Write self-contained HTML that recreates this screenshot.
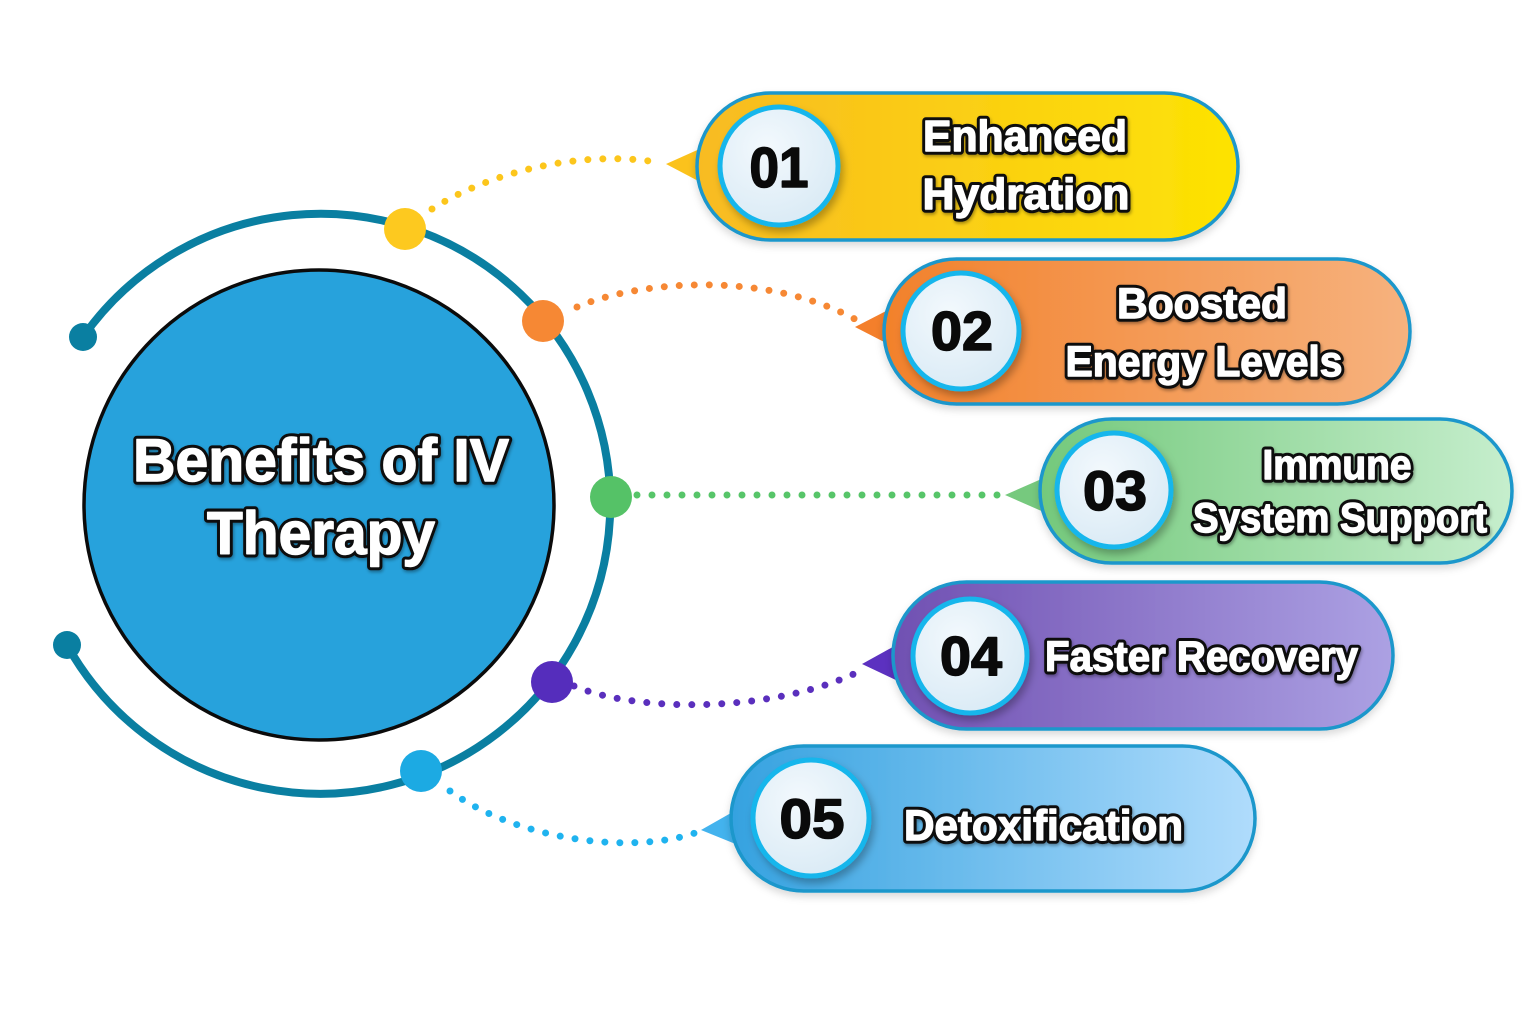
<!DOCTYPE html>
<html>
<head>
<meta charset="utf-8">
<style>
  html,body{margin:0;padding:0;background:#ffffff;}
  svg{display:block;}
  .o{font-family:"Liberation Sans",sans-serif;font-weight:bold;fill:#111;stroke:#111;stroke-width:7.5;stroke-linejoin:round;}
  .i{font-family:"Liberation Sans",sans-serif;font-weight:bold;fill:#ffffff;stroke:#ffffff;stroke-width:1.4;stroke-linejoin:round;}
  .num{font-family:"Liberation Sans",sans-serif;font-weight:bold;fill:#0a0a0a;stroke:#0a0a0a;stroke-width:1.6;stroke-linejoin:round;}
</style>
</head>
<body>
<svg width="1536" height="1024" viewBox="0 0 1536 1024" xmlns="http://www.w3.org/2000/svg">
  <defs>
    <linearGradient id="g1" x1="0" y1="0" x2="1" y2="0">
      <stop offset="0" stop-color="#f8bb22"/>
      <stop offset="1" stop-color="#fde303"/>
    </linearGradient>
    <linearGradient id="g2" x1="0" y1="0" x2="1" y2="0">
      <stop offset="0" stop-color="#f2812b"/>
      <stop offset="1" stop-color="#f6b27e"/>
    </linearGradient>
    <linearGradient id="g3" x1="0" y1="0" x2="1" y2="0">
      <stop offset="0" stop-color="#74c97c"/>
      <stop offset="1" stop-color="#c6eecd"/>
    </linearGradient>
    <linearGradient id="g4" x1="0" y1="0" x2="1" y2="0">
      <stop offset="0" stop-color="#7050b2"/>
      <stop offset="1" stop-color="#aca1e3"/>
    </linearGradient>
    <linearGradient id="g5" x1="0" y1="0" x2="1" y2="0">
      <stop offset="0" stop-color="#35a2e0"/>
      <stop offset="1" stop-color="#b0dcfc"/>
    </linearGradient>
    <radialGradient id="nc" cx="0.4" cy="0.35" r="0.7">
      <stop offset="0" stop-color="#f3f9fd"/>
      <stop offset="1" stop-color="#d9eaf5"/>
    </radialGradient>
    <filter id="sh" x="-20%" y="-20%" width="140%" height="150%">
      <feDropShadow dx="3" dy="5" stdDeviation="4" flood-color="#000" flood-opacity="0.28"/>
    </filter>
    <filter id="psh" x="-10%" y="-20%" width="120%" height="150%">
      <feDropShadow dx="0" dy="4" stdDeviation="4" flood-color="#000" flood-opacity="0.15"/>
    </filter>
    <filter id="tsh" x="-10%" y="-30%" width="120%" height="160%">
      <feDropShadow dx="1" dy="2" stdDeviation="1.5" flood-color="#000" flood-opacity="0.35"/>
    </filter>
  </defs>

  <!-- outer ring -->
  <path d="M 83 337 A 290 290 0 1 1 67 645" fill="none" stroke="#0a7fa1" stroke-width="8"/>
  <circle cx="83" cy="337" r="14" fill="#0a7fa1"/>
  <circle cx="67" cy="645" r="14" fill="#0a7fa1"/>

  <!-- central circle -->
  <circle cx="319" cy="505" r="235" fill="#27a2dc" stroke="#0b0b0b" stroke-width="3.5"/>
  <g filter="url(#tsh)">
    <text class="o" x="321" y="481" text-anchor="middle" font-size="60" textLength="376" lengthAdjust="spacingAndGlyphs">Benefits of IV</text>
    <text class="o" x="321" y="554" text-anchor="middle" font-size="60" textLength="228" lengthAdjust="spacingAndGlyphs">Therapy</text>
    <text class="i" x="321" y="481" text-anchor="middle" font-size="60" textLength="376" lengthAdjust="spacingAndGlyphs">Benefits of IV</text>
    <text class="i" x="321" y="554" text-anchor="middle" font-size="60" textLength="228" lengthAdjust="spacingAndGlyphs">Therapy</text>
  </g>

  <!-- dotted connectors -->
  <g fill="none" stroke-width="7" stroke-linecap="round" stroke-dasharray="0 15">
    <path d="M 432 209 C 490 172, 580 150, 656 162" stroke="#fcc61c"/>
    <path d="M 577 307 C 640 280, 770 270, 860 322" stroke="#f68834"/>
    <path d="M 637 495 L 1000 495" stroke="#57c569"/>
    <path d="M 574 686 C 640 714, 780 712, 862 670" stroke="#5a2fbd"/>
    <path d="M 450 791 C 520 842, 640 856, 703 830" stroke="#1fb3ef"/>
  </g>

  <!-- dots on ring -->
  <circle cx="405" cy="229" r="21" fill="#fdc91f"/>
  <circle cx="543" cy="321" r="21" fill="#f68834"/>
  <circle cx="611" cy="497" r="21" fill="#55c267"/>
  <circle cx="552" cy="682" r="21" fill="#552dbc"/>
  <circle cx="421" cy="771" r="21" fill="#1caae3"/>

  <!-- pointer triangles -->
  <polygon points="666,164 704,147 704,184" fill="#fbc21c"/>
  <polygon points="855,327 892,308 892,346" fill="#f47f2b"/>
  <polygon points="1005,495 1046,477 1046,513" fill="#76c97e"/>
  <polygon points="862,664 900,643 900,682" fill="#5c31c0"/>
  <polygon points="701,830 738,809 738,845" fill="#43b3ee"/>

  <!-- pill 1 -->
  <rect x="697" y="93" width="541" height="147" rx="73.5" fill="url(#g1)" stroke="#1a97cb" stroke-width="3.5" filter="url(#psh)"/>
  <circle cx="779" cy="166" r="59" fill="url(#nc)" stroke="#12b6ec" stroke-width="5" filter="url(#sh)"/>
  <text class="num" x="779" y="187" text-anchor="middle" font-size="57" textLength="59" lengthAdjust="spacingAndGlyphs">01</text>
  <g filter="url(#tsh)">
    <text class="o" x="1025" y="151" text-anchor="middle" font-size="44" textLength="204" lengthAdjust="spacingAndGlyphs">Enhanced</text>
    <text class="o" x="1026" y="209" text-anchor="middle" font-size="44" textLength="207" lengthAdjust="spacingAndGlyphs">Hydration</text>
    <text class="i" x="1025" y="151" text-anchor="middle" font-size="44" textLength="204" lengthAdjust="spacingAndGlyphs">Enhanced</text>
    <text class="i" x="1026" y="209" text-anchor="middle" font-size="44" textLength="207" lengthAdjust="spacingAndGlyphs">Hydration</text>
  </g>

  <!-- pill 2 -->
  <rect x="884" y="259" width="526" height="145" rx="72.5" fill="url(#g2)" stroke="#1a97cb" stroke-width="3.5" filter="url(#psh)"/>
  <circle cx="961" cy="331" r="58" fill="url(#nc)" stroke="#12b6ec" stroke-width="5" filter="url(#sh)"/>
  <text class="num" x="962" y="350" text-anchor="middle" font-size="55" textLength="62" lengthAdjust="spacingAndGlyphs">02</text>
  <g filter="url(#tsh)">
    <text class="o" x="1202" y="318" text-anchor="middle" font-size="43" textLength="170" lengthAdjust="spacingAndGlyphs">Boosted</text>
    <text class="o" x="1204" y="376" text-anchor="middle" font-size="43" textLength="277" lengthAdjust="spacingAndGlyphs">Energy Levels</text>
    <text class="i" x="1202" y="318" text-anchor="middle" font-size="43" textLength="170" lengthAdjust="spacingAndGlyphs">Boosted</text>
    <text class="i" x="1204" y="376" text-anchor="middle" font-size="43" textLength="277" lengthAdjust="spacingAndGlyphs">Energy Levels</text>
  </g>

  <!-- pill 3 -->
  <rect x="1040" y="419" width="472" height="144" rx="72" fill="url(#g3)" stroke="#1a97cb" stroke-width="3.5" filter="url(#psh)"/>
  <circle cx="1114" cy="490" r="57" fill="url(#nc)" stroke="#12b6ec" stroke-width="5" filter="url(#sh)"/>
  <text class="num" x="1115" y="510" text-anchor="middle" font-size="56" textLength="64" lengthAdjust="spacingAndGlyphs">03</text>
  <g filter="url(#tsh)">
    <text class="o" x="1337" y="479" text-anchor="middle" font-size="42" textLength="149" lengthAdjust="spacingAndGlyphs">Immune</text>
    <text class="o" x="1340" y="532" text-anchor="middle" font-size="42" textLength="294" lengthAdjust="spacingAndGlyphs">System Support</text>
    <text class="i" x="1337" y="479" text-anchor="middle" font-size="42" textLength="149" lengthAdjust="spacingAndGlyphs">Immune</text>
    <text class="i" x="1340" y="532" text-anchor="middle" font-size="42" textLength="294" lengthAdjust="spacingAndGlyphs">System Support</text>
  </g>

  <!-- pill 4 -->
  <rect x="893" y="582" width="500" height="147" rx="73.5" fill="url(#g4)" stroke="#1a97cb" stroke-width="3.5" filter="url(#psh)"/>
  <circle cx="970" cy="656" r="57" fill="url(#nc)" stroke="#12b6ec" stroke-width="5" filter="url(#sh)"/>
  <text class="num" x="971" y="675" text-anchor="middle" font-size="55" textLength="62" lengthAdjust="spacingAndGlyphs">04</text>
  <g filter="url(#tsh)">
    <text class="o" x="1045" y="671" font-size="43" textLength="313" lengthAdjust="spacingAndGlyphs">Faster Recovery</text>
    <text class="i" x="1045" y="671" font-size="43" textLength="313" lengthAdjust="spacingAndGlyphs">Faster Recovery</text>
  </g>

  <!-- pill 5 -->
  <rect x="731" y="746" width="524" height="145" rx="72.5" fill="url(#g5)" stroke="#1a97cb" stroke-width="3.5" filter="url(#psh)"/>
  <circle cx="811" cy="818" r="58" fill="url(#nc)" stroke="#12b6ec" stroke-width="5" filter="url(#sh)"/>
  <text class="num" x="812" y="838" text-anchor="middle" font-size="56" textLength="65" lengthAdjust="spacingAndGlyphs">05</text>
  <g filter="url(#tsh)">
    <text class="o" x="904" y="840" font-size="43" textLength="279" lengthAdjust="spacingAndGlyphs">Detoxification</text>
    <text class="i" x="904" y="840" font-size="43" textLength="279" lengthAdjust="spacingAndGlyphs">Detoxification</text>
  </g>
</svg>
</body>
</html>
